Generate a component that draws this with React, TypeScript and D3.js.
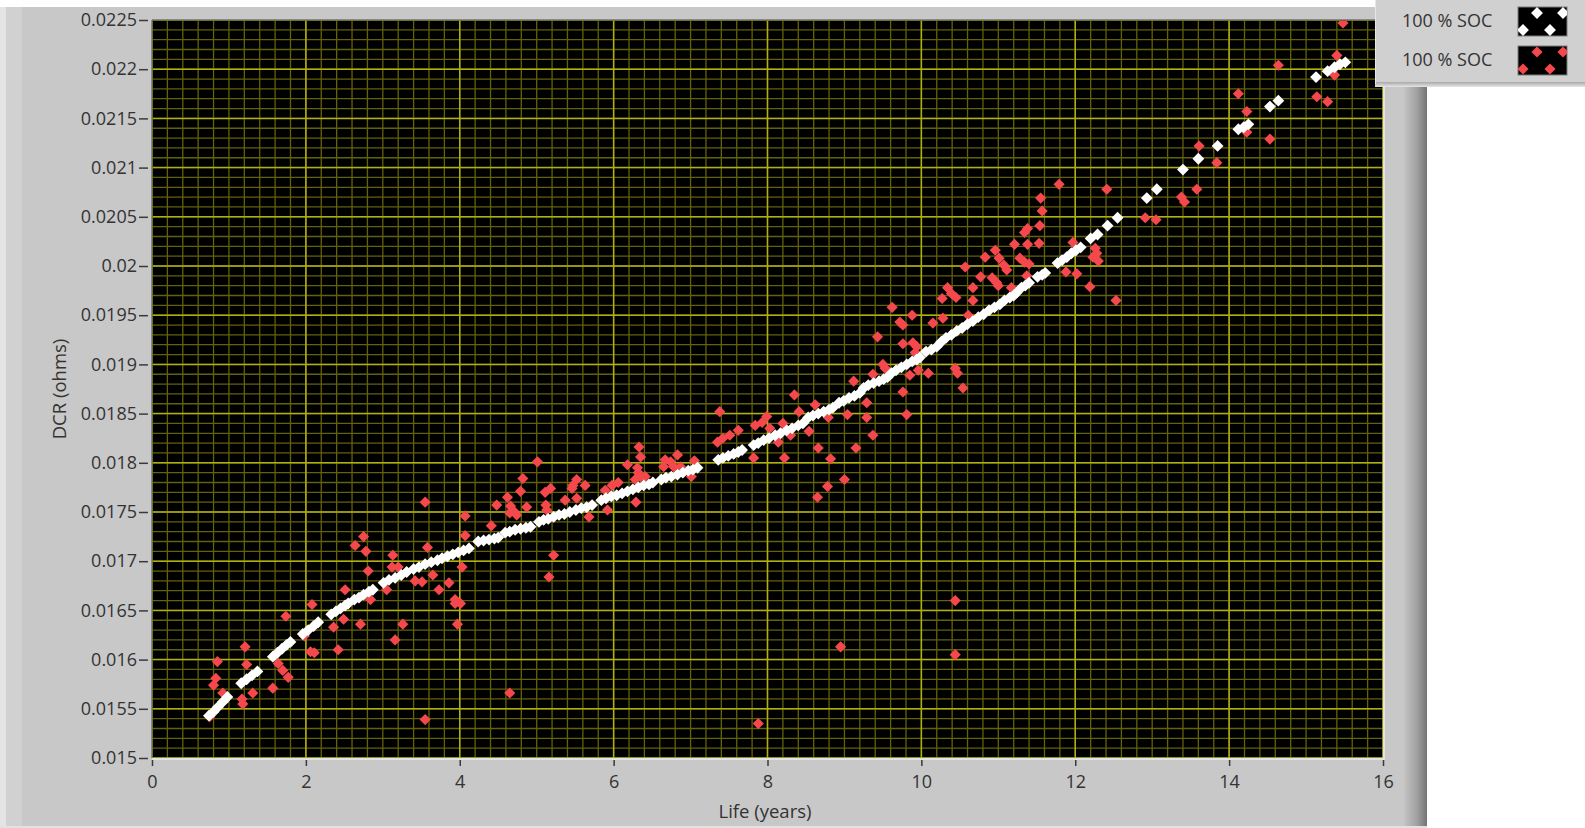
import { useRef, useEffect } from "react";
import * as d3 from "d3";

const xTickValues = [0, 2, 4, 6, 8, 10, 12, 14, 16];
const yTickValues = [0.015, 0.0155, 0.016, 0.0165, 0.017, 0.0175, 0.018, 0.0185, 0.019, 0.0195, 0.02, 0.0205, 0.021, 0.0215, 0.022, 0.0225];
const yTickLabels = ["0.015", "0.0155", "0.016", "0.0165", "0.017", "0.0175", "0.018", "0.0185", "0.019", "0.0195", "0.02", "0.0205", "0.021", "0.0215", "0.022", "0.0225"];
const legendLabels = ["100 % SOC", "100 % SOC"];
const seriesColors = ["#ffffff", "#f4484d"];

// model curve (white), life in years vs DCR in ohms
const modelPoints: [number, number][] = [
  [0.74, 0.01543], [0.80, 0.01547], [0.86, 0.01552], [0.92, 0.01557], [0.98, 0.01562],
  [1.16, 0.01576], [1.23, 0.0158], [1.30, 0.01584], [1.37, 0.01588],
  [1.57, 0.01603], [1.63, 0.01607], [1.69, 0.01611], [1.75, 0.01615], [1.80, 0.01618],
  [1.96, 0.01626], [2.03, 0.0163], [2.10, 0.01634], [2.16, 0.01638],
  [2.33, 0.01646], [2.39, 0.01649], [2.45, 0.01652], [2.51, 0.01655], [2.55, 0.01657],
  [2.63, 0.01661], [2.69, 0.01663], [2.75, 0.01666], [2.82, 0.01669], [2.87, 0.01671],
  [3.01, 0.01678], [3.08, 0.01681], [3.16, 0.01683], [3.24, 0.01686], [3.31, 0.01689],
  [3.40, 0.01692], [3.47, 0.01694], [3.55, 0.01697], [3.63, 0.01699], [3.71, 0.01701], [3.77, 0.01703],
  [3.84, 0.01705], [3.91, 0.01707], [3.98, 0.01709], [4.05, 0.01711], [4.12, 0.01713],
  [4.24, 0.0172], [4.31, 0.01721], [4.38, 0.01722], [4.45, 0.01723], [4.50, 0.01724],
  [4.59, 0.01729], [4.65, 0.0173], [4.72, 0.01732], [4.79, 0.01733], [4.86, 0.01734], [4.92, 0.01735],
  [5.03, 0.0174], [5.09, 0.01742], [5.15, 0.01743], [5.22, 0.01745], [5.29, 0.01747], [5.36, 0.01748],
  [5.43, 0.0175], [5.51, 0.01752], [5.58, 0.01754], [5.65, 0.01755], [5.72, 0.01757],
  [5.84, 0.01762], [5.90, 0.01764], [5.97, 0.01766], [6.04, 0.01767], [6.11, 0.01769], [6.18, 0.01771],
  [6.25, 0.01773], [6.32, 0.01775], [6.39, 0.01777], [6.46, 0.01778], [6.51, 0.0178],
  [6.62, 0.01783], [6.68, 0.01785], [6.75, 0.01786], [6.83, 0.01788], [6.90, 0.0179], [6.97, 0.01792],
  [7.03, 0.01793], [7.09, 0.01795],
  [7.36, 0.01803], [7.42, 0.01805], [7.49, 0.01807], [7.56, 0.01809], [7.62, 0.01811], [7.67, 0.01813],
  [7.82, 0.01818], [7.88, 0.0182], [7.95, 0.01823], [8.02, 0.01825], [8.10, 0.01828], [8.17, 0.0183],
  [8.25, 0.01833], [8.32, 0.01835], [8.40, 0.01838], [8.46, 0.0184],
  [8.53, 0.01846], [8.59, 0.01848], [8.66, 0.0185], [8.73, 0.01852], [8.80, 0.01854], [8.85, 0.01856],
  [8.93, 0.01861], [8.99, 0.01863], [9.06, 0.01866], [9.13, 0.01868], [9.20, 0.01871],
  [9.25, 0.01876], [9.31, 0.01879], [9.38, 0.01881], [9.45, 0.01883], [9.51, 0.01885], [9.56, 0.01887],
  [9.61, 0.01891], [9.67, 0.01894], [9.74, 0.01897], [9.81, 0.019], [9.88, 0.01903], [9.94, 0.01905], [9.98, 0.01907],
  [10.06, 0.01913], [10.13, 0.01915], [10.20, 0.01918],
  [10.26, 0.01923], [10.32, 0.01927], [10.39, 0.0193], [10.46, 0.01934], [10.53, 0.01937], [10.60, 0.01941],
  [10.67, 0.01944], [10.74, 0.01948], [10.81, 0.01951], [10.88, 0.01955], [10.95, 0.01958], [11.02, 0.01961],
  [11.08, 0.01965], [11.15, 0.01968], [11.20, 0.0197], [11.24, 0.01973],
  [11.30, 0.01978], [11.35, 0.0198], [11.40, 0.01983],
  [11.51, 0.01989], [11.57, 0.01991], [11.61, 0.01993],
  [11.77, 0.02003], [11.83, 0.02006], [11.89, 0.02009], [11.95, 0.02013], [12.01, 0.02016], [12.07, 0.02019],
  [12.20, 0.02028], [12.29, 0.02032], [12.42, 0.02041], [12.55, 0.02049],
  [12.93, 0.02069], [13.06, 0.02078], [13.40, 0.02098], [13.60, 0.02109], [13.85, 0.02122],
  [14.12, 0.02139], [14.19, 0.02141], [14.25, 0.02144], [14.53, 0.02162], [14.64, 0.02168],
  [15.13, 0.02192], [15.28, 0.02198], [15.37, 0.02202], [15.44, 0.02205], [15.51, 0.02207],
];

// measured points (red)
const measuredPoints: [number, number][] = [
  [0.75, 0.01542], [0.85, 0.01598], [0.83, 0.01581], [0.80, 0.01574], [0.92, 0.01566],
  [1.21, 0.01613], [1.23, 0.01595], [1.31, 0.01566], [1.17, 0.0156], [1.18, 0.01555],
  [1.57, 0.01571], [1.64, 0.01596], [1.70, 0.01589], [1.77, 0.01582], [1.74, 0.01644],
  [2.08, 0.01656], [1.98, 0.01624], [2.06, 0.01608], [2.11, 0.01607], [2.42, 0.0161],
  [2.36, 0.01633], [2.49, 0.01641], [2.51, 0.01671], [2.71, 0.01636], [2.81, 0.0169],
  [2.84, 0.01661], [3.05, 0.01671], [3.16, 0.0162], [3.26, 0.01636], [3.12, 0.01694],
  [3.20, 0.01694], [3.42, 0.0168], [3.51, 0.01679], [3.65, 0.01686], [3.73, 0.01671],
  [3.86, 0.01678], [3.94, 0.01661], [3.94, 0.01657], [3.97, 0.01636], [4.01, 0.01657],
  [4.03, 0.01694], [3.55, 0.01539], [3.55, 0.0176], [2.64, 0.01716], [2.75, 0.01725],
  [2.78, 0.0171], [3.13, 0.01706], [3.58, 0.01714],
  [4.07, 0.01746], [4.07, 0.01726], [4.41, 0.01736], [4.48, 0.01757], [4.62, 0.01765],
  [4.79, 0.01771], [4.82, 0.01784], [5.01, 0.01801], [4.66, 0.01756], [4.70, 0.01751],
  [4.65, 0.01749], [4.74, 0.01747], [4.87, 0.01755], [5.11, 0.0177], [5.18, 0.01774],
  [5.12, 0.01757], [5.13, 0.01752], [5.37, 0.01762], [5.47, 0.01777], [5.52, 0.01783],
  [5.46, 0.01774], [5.63, 0.01777], [5.52, 0.01764], [5.22, 0.01706], [5.16, 0.01684],
  [5.68, 0.01745], [5.89, 0.01772], [5.98, 0.01777], [6.06, 0.0178], [5.92, 0.01752],
  [6.18, 0.01798], [6.33, 0.01816], [6.35, 0.01806], [6.31, 0.01795], [6.32, 0.0179],
  [6.35, 0.01786], [6.41, 0.01786], [6.28, 0.01783], [6.29, 0.0176], [6.67, 0.01803],
  [6.74, 0.01801], [6.83, 0.01808], [6.78, 0.01796], [6.87, 0.01796], [6.65, 0.01796],
  [7.05, 0.01802], [7.01, 0.01786], [4.65, 0.01566],
  [7.38, 0.01852], [7.35, 0.01821], [7.42, 0.01825], [7.51, 0.01828], [7.62, 0.01833],
  [7.84, 0.01838], [7.93, 0.01841], [7.99, 0.01847], [8.03, 0.01835], [7.82, 0.01805],
  [8.20, 0.0184], [8.30, 0.01828], [8.14, 0.01821], [8.22, 0.01805], [8.35, 0.01869],
  [8.41, 0.01852], [8.62, 0.01859], [8.79, 0.01846], [8.54, 0.01832], [8.66, 0.01815],
  [8.82, 0.01804], [9.04, 0.01849], [9.12, 0.01883], [9.29, 0.01861], [9.29, 0.01846],
  [9.37, 0.01828], [9.15, 0.01815], [9.00, 0.01783], [8.78, 0.01776], [8.65, 0.01765],
  [9.37, 0.0189], [9.76, 0.01872], [9.81, 0.01849], [7.88, 0.01535], [8.95, 0.01613],
  [9.43, 0.01928], [9.50, 0.019], [9.53, 0.01896], [9.62, 0.01958], [9.72, 0.01943],
  [9.76, 0.0194], [9.88, 0.0195], [9.76, 0.01921], [9.89, 0.01922], [9.94, 0.01918],
  [9.92, 0.01912], [9.85, 0.01889], [9.96, 0.01894], [10.09, 0.01891], [10.15, 0.01942],
  [10.28, 0.01947], [10.27, 0.01967], [10.34, 0.01978], [10.39, 0.01972], [10.45, 0.01968],
  [10.44, 0.01896], [10.47, 0.01891], [10.54, 0.01876], [10.44, 0.0166], [10.44, 0.01605],
  [10.61, 0.0195], [10.67, 0.01978], [10.67, 0.01965], [10.57, 0.01999], [10.77, 0.01989],
  [10.83, 0.02009], [10.92, 0.01988], [10.98, 0.01983], [11.00, 0.0198],
  [10.96, 0.02016], [11.01, 0.02008], [11.07, 0.02001], [11.11, 0.01996], [11.17, 0.01978],
  [11.21, 0.02022], [11.28, 0.02008], [11.34, 0.02004], [11.40, 0.02002], [11.34, 0.02034],
  [11.38, 0.02038], [11.54, 0.02041], [11.57, 0.02056], [11.55, 0.02069], [11.79, 0.02083],
  [11.38, 0.02022], [11.53, 0.02023], [11.37, 0.0199], [11.97, 0.02024], [12.26, 0.02018],
  [12.28, 0.02013], [12.23, 0.02009], [12.30, 0.02005], [11.88, 0.01994], [12.02, 0.01992],
  [12.19, 0.01979], [12.53, 0.01965], [12.41, 0.02078], [12.91, 0.02049], [13.05, 0.02047],
  [13.38, 0.0207], [13.42, 0.02065], [13.58, 0.02078], [13.61, 0.02122], [13.84, 0.02105],
  [14.53, 0.02129], [14.12, 0.02175], [14.23, 0.02157], [14.23, 0.02136], [14.64, 0.02204],
  [15.14, 0.02172], [15.28, 0.02167], [15.37, 0.02194], [15.40, 0.02214], [15.48, 0.02247],
];

const W = 1585;
const H = 828;
const plot = { left: 152, right: 1383, top: 20, bottom: 758 };
const FONT = "'Open Sans', 'Noto Sans', sans-serif";

const App = () => {
  const svgRef = useRef<SVGSVGElement | null>(null);

  useEffect(() => {
    if (!svgRef.current) return;
    d3.select(svgRef.current).selectAll("*").remove();
    const svg = d3.select(svgRef.current);

    const x = d3.scaleLinear().domain([0, 16]).range([plot.left, plot.right]);
    const y = d3.scaleLinear().domain([0.015, 0.0225]).range([plot.bottom, plot.top]);

    const defs = svg.append("defs");
    const edge = defs.append("linearGradient").attr("id", "edge").attr("x1", 0).attr("x2", 1);
    edge.append("stop").attr("offset", "0%").attr("stop-color", "#c4c4c4");
    edge.append("stop").attr("offset", "55%").attr("stop-color", "#a2a2a2");
    edge.append("stop").attr("offset", "100%").attr("stop-color", "#747474");
    const shade = defs.append("linearGradient").attr("id", "shade").attr("x1", 0).attr("x2", 0).attr("y1", 0).attr("y2", 1);
    shade.append("stop").attr("offset", "0%").attr("stop-color", "#a8a8a8");
    shade.append("stop").attr("offset", "100%").attr("stop-color", "#e6e6e6");
    defs.append("clipPath").attr("id", "plotClip")
      .append("rect")
      .attr("x", plot.left).attr("y", plot.top)
      .attr("width", plot.right - plot.left).attr("height", plot.bottom - plot.top);

    // page + panel
    svg.append("rect").attr("width", W).attr("height", H).attr("fill", "#ffffff");
    svg.append("rect").attr("x", 0).attr("y", 7).attr("width", 1427).attr("height", H - 7).attr("fill", "#c8c8c8");
    svg.append("rect").attr("x", 0).attr("y", 7).attr("width", 6).attr("height", H - 7).attr("fill", "#e4e4e4");
    svg.append("rect").attr("x", 6).attr("y", 7).attr("width", 16).attr("height", H - 7).attr("fill", "#d1d1d1");
    svg.append("rect").attr("x", 1404).attr("y", 7).attr("width", 23).attr("height", H - 7).attr("fill", "url(#edge)");
    svg.append("rect").attr("x", 0).attr("y", H - 2).attr("width", 1427).attr("height", 2).attr("fill", "#e2e2e2");

    // plot area
    svg.append("rect")
      .attr("x", plot.left).attr("y", plot.top)
      .attr("width", plot.right - plot.left).attr("height", plot.bottom - plot.top)
      .attr("fill", "#000000");

    const grid = svg.append("g").attr("clip-path", "url(#plotClip)");
    grid.selectAll(".vminor")
      .data(x.ticks(80))
      .enter().append("line")
      .attr("x1", d => x(d)).attr("x2", d => x(d))
      .attr("y1", plot.top).attr("y2", plot.bottom)
      .attr("stroke", "#626208").attr("stroke-width", 1.3);
    grid.selectAll(".hminor")
      .data(y.ticks(75))
      .enter().append("line")
      .attr("y1", d => y(d)).attr("y2", d => y(d))
      .attr("x1", plot.left).attr("x2", plot.right)
      .attr("stroke", "#626208").attr("stroke-width", 1.3);
    grid.selectAll(".vmajor")
      .data(xTickValues)
      .enter().append("line")
      .attr("x1", d => x(d)).attr("x2", d => x(d))
      .attr("y1", plot.top).attr("y2", plot.bottom)
      .attr("stroke", "#b0b010").attr("stroke-width", 1.5);
    grid.selectAll(".hmajor")
      .data(yTickValues)
      .enter().append("line")
      .attr("y1", d => y(d)).attr("y2", d => y(d))
      .attr("x1", plot.left).attr("x2", plot.right)
      .attr("stroke", "#b0b010").attr("stroke-width", 1.5);

    // markers
    const redDiamond = d3.symbol().type(d3.symbolSquare).size(62)();
    const whiteDiamond = d3.symbol().type(d3.symbolSquare).size(70)();
    const marks = svg.append("g").attr("clip-path", "url(#plotClip)");
    marks.selectAll(".measured")
      .data(measuredPoints)
      .enter().append("path")
      .attr("d", redDiamond)
      .attr("transform", d => `translate(${x(d[0])},${y(d[1])}) rotate(45)`)
      .attr("fill", seriesColors[1]);
    marks.selectAll(".model")
      .data(modelPoints)
      .enter().append("path")
      .attr("d", whiteDiamond)
      .attr("transform", d => `translate(${x(d[0])},${y(d[1])}) rotate(45)`)
      .attr("fill", seriesColors[0]);

    // plot frame
    svg.append("path")
      .attr("d", `M${plot.left},${plot.bottom} V${plot.top} H${plot.right}`)
      .attr("fill", "none").attr("stroke", "#4a4a4a").attr("stroke-width", 1);
    svg.append("path")
      .attr("d", `M${plot.left},${plot.bottom + 1} H${plot.right + 1} V${plot.top}`)
      .attr("fill", "none").attr("stroke", "#ececec").attr("stroke-width", 1.5);

    // y axis
    const yAxis = svg.append("g")
      .attr("transform", "translate(148,0)")
      .call(d3.axisLeft(y).tickValues(yTickValues).tickSize(9).tickPadding(2)
        .tickFormat((_d, i) => yTickLabels[i]));
    yAxis.select(".domain").remove();
    yAxis.selectAll("line").attr("stroke", "#3a3a3a").attr("stroke-width", 1.5);
    yAxis.selectAll("text").attr("fill", "#333333").attr("font-size", 18).attr("font-family", FONT);

    // x axis
    const xAxis = svg.append("g")
      .attr("transform", `translate(0,${plot.bottom + 2})`)
      .call(d3.axisBottom(x).tickValues(xTickValues).tickSize(6).tickPadding(9)
        .tickFormat(d => String(d)));
    xAxis.select(".domain").remove();
    xAxis.selectAll("line").attr("stroke", "#3a3a3a").attr("stroke-width", 1.5);
    xAxis.selectAll("text").attr("fill", "#333333").attr("font-size", 18).attr("font-family", FONT);

    // axis titles
    svg.append("text")
      .attr("transform", `translate(66,389) rotate(-90)`)
      .attr("text-anchor", "middle")
      .attr("font-family", FONT).attr("font-size", 18.5).attr("fill", "#333333")
      .text("DCR (ohms)");
    svg.append("text")
      .attr("x", 765).attr("y", 818)
      .attr("text-anchor", "middle")
      .attr("font-family", FONT).attr("font-size", 18.5).attr("fill", "#333333")
      .text("Life (years)");

    // legend
    const legend = svg.append("g");
    legend.append("rect").attr("x", 1375).attr("y", 0).attr("width", 210).attr("height", 84).attr("fill", "#d0d0d0");
    legend.append("rect").attr("x", 1375).attr("y", 82).attr("width", 210).attr("height", 5).attr("fill", "url(#shade)");
    legend.append("line").attr("x1", 1375.5).attr("x2", 1375.5).attr("y1", 0).attr("y2", 84)
      .attr("stroke", "#e8e8e8").attr("stroke-width", 1);
    const swatchOffsets: [number, number][] = [[5, 23], [19, 6], [32, 23], [45, 6]];
    legendLabels.forEach((label, i) => {
      const top = 7 + i * 39;
      legend.append("text")
        .attr("x", 1402).attr("y", top + 14).attr("dy", "0.35em")
        .attr("font-family", FONT).attr("font-size", 18).attr("fill", "#333333")
        .text(label);
      defs.append("clipPath").attr("id", `sw${i}`)
        .append("rect").attr("x", 1518).attr("y", top).attr("width", 49).attr("height", 29);
      legend.append("rect")
        .attr("x", 1518).attr("y", top).attr("width", 49).attr("height", 29)
        .attr("fill", "#000000").attr("stroke", "#7a7a7a").attr("stroke-width", 1);
      legend.append("g").attr("clip-path", `url(#sw${i})`)
        .selectAll("path")
        .data(swatchOffsets)
        .enter().append("path")
        .attr("d", i === 0 ? whiteDiamond : redDiamond)
        .attr("transform", d => `translate(${1518 + d[0]},${top + d[1]}) rotate(45)`)
        .attr("fill", seriesColors[i]);
    });
  }, []);

  return (
    <div style={{ position: "absolute", left: 0, top: 0 }}>
      <svg ref={svgRef} width={W} height={H} viewBox={`0 0 ${W} ${H}`} style={{ display: "block" }}></svg>
    </div>
  );
};

export default App;
